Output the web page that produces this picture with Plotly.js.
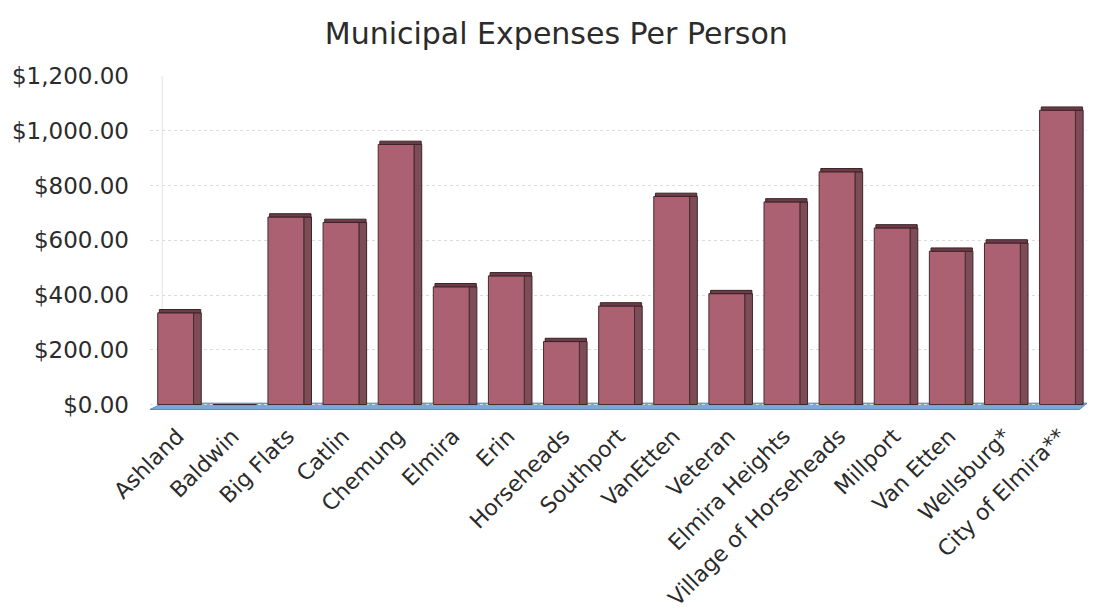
<!DOCTYPE html>
<html>
<head>
<meta charset="utf-8">
<script src="https://cdn.plot.ly/plotly-3.0.1.min.js"></script>
<style>html,body{margin:0;padding:0;background:#fff;}#chart{width:1095px;height:615px;}</style>
</head>
<body>
<div id="chart"></div>
<script>
const categories = ["Ashland","Baldwin","Big Flats","Catlin","Chemung","Elmira","Erin","Horseheads","Southport","VanEtten","Veteran","Elmira Heights","Village of Horseheads","Millport","Van Etten","Wellsburg*","City of Elmira**"];
const expensesPerPerson = [335, 0, 685, 665, 950, 430, 470, 230, 360, 760, 405, 740, 850, 645, 560, 590, 1075];
const yTicks = [0, 200, 400, 600, 800, 1000, 1200];

const FONT = 'DejaVu Sans, Verdana, sans-serif';
const capHeight = expensesPerPerson.map(v => v > 0 ? 12 : 0);

const front = {
  type: 'bar', x: categories, y: expensesPerPerson,
  width: 0.65, offset: -0.36,
  marker: {color: '#ab6172', line: {color: '#4a2a30', width: 1}},
  hoverinfo: 'x+y', showlegend: false
};
const side = {
  type: 'bar', x: categories, y: expensesPerPerson,
  width: 0.14, offset: 0.29,
  marker: {color: '#7d4d57', line: {color: '#3e2228', width: 1}},
  hoverinfo: 'skip', showlegend: false
};
const cap = {
  type: 'bar', x: categories, y: capHeight, base: expensesPerPerson,
  width: 0.75, offset: -0.33,
  marker: {color: '#6a3d48', line: {color: '#3e2228', width: 1}},
  hoverinfo: 'skip', showlegend: false
};

const layout = {
  width: 1095, height: 615,
  margin: {l: 150, r: 8, t: 76, b: 205},
  paper_bgcolor: '#ffffff', plot_bgcolor: '#ffffff',
  barmode: 'overlay',
  title: {text: 'Municipal Expenses Per Person', x: 0.508, xanchor: 'center', y: 0.945, yanchor: 'middle',
          font: {family: FONT, size: 30, color: '#2b2b2b'}},
  font: {family: FONT, color: '#2b2b2b'},
  xaxis: {
    type: 'category', tickangle: -45, showgrid: false, zeroline: false,
    showline: false, ticks: '', tickfont: {size: 22, color: '#2b2b2b'},
    range: [-0.5, 16.5], ticklabelstandoff: 8
  },
  yaxis: {
    range: [-20, 1200], tickvals: yTicks, tickformat: '$,.2f',
    tickfont: {size: 23, color: '#2b2b2b'},
    showgrid: true, gridcolor: '#dcdcdc', griddash: 'dot', gridwidth: 1,
    zeroline: false, showline: false,
    ticks: '', ticklabelstandoff: 20
  },
  shapes: [
    {type: 'line', xref: 'paper', yref: 'y', x0: 0.013, x1: 0.013, y0: 0, y1: 1230, layer: 'below',
     line: {color: '#e3e3e3', width: 1}},
    {type: 'path', xref: 'paper', yref: 'y', layer: 'below',
     path: 'M 0,-18 L 0.992,-18 L 1,5 L 0.014,5 Z',
     fillcolor: '#7fa6d4', line: {color: '#5d86b8', width: 1}}
  ]
};

Plotly.newPlot('chart', [side, front, cap], layout, {displayModeBar: false, staticPlot: true});
</script>
</body>
</html>
